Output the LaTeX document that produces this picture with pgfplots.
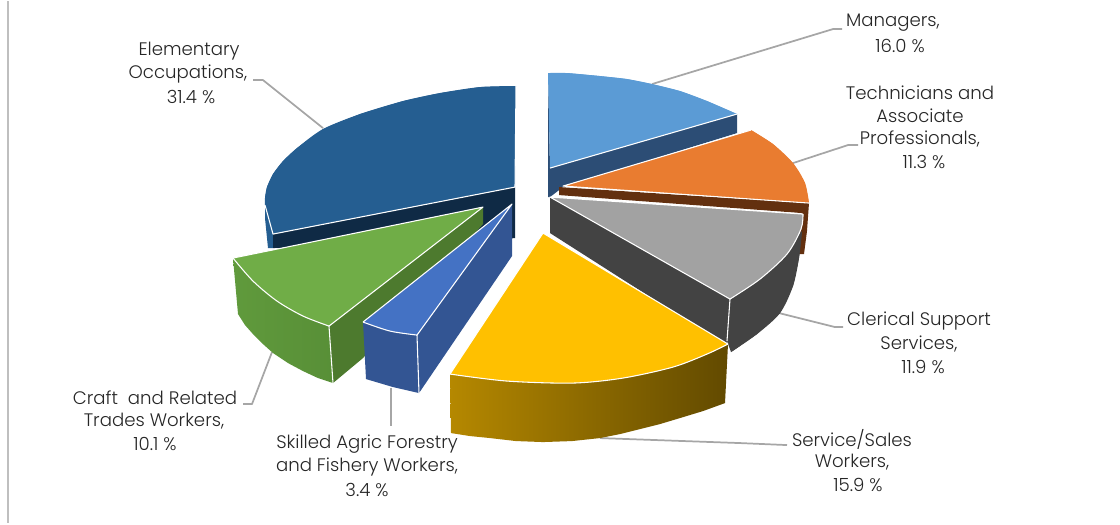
\documentclass[border=0pt]{standalone}
\usepackage{fontspec}
\setmainfont{Poppins Light}
\usepackage{pgfplots}
\pgfplotsset{compat=1.18}
\definecolor{mgrtop}{HTML}{5B9BD5}
\definecolor{mgrside}{HTML}{2C4D75}
\definecolor{techtop}{HTML}{E97C30}
\definecolor{techside}{HTML}{63300F}
\definecolor{clertop}{HTML}{A2A2A2}
\definecolor{clerside}{HTML}{434343}
\definecolor{servtop}{HTML}{FFC000}
\definecolor{servl}{HTML}{B58800}
\definecolor{servm}{HTML}{7D5E00}
\definecolor{servr}{HTML}{624A00}
\definecolor{skiltop}{HTML}{4472C4}
\definecolor{skilside}{HTML}{335593}
\definecolor{crafttop}{HTML}{70AD47}
\definecolor{craftl}{HTML}{609A3C}
\definecolor{craftr}{HTML}{588F37}
\definecolor{craftin}{HTML}{4D7A2E}
\definecolor{elemtop}{HTML}{255E91}
\definecolor{elemside}{HTML}{0F2A45}
\definecolor{leader}{HTML}{A6A6A6}
\tikzset{
  face/.style={draw=none},
  edge/.style={draw=white,line width=0.8pt,fill=none},
  lead/.style={draw=leader,line width=1.3pt,fill=none},
  lab/.style={font=\fontsize{13.6}{15}\selectfont,text=black!85,inner sep=0pt,anchor=center},
}
\begin{document}
\begin{tikzpicture}
\begin{axis}[
  scale only axis,width=840pt,height=391.5pt,
  xmin=0,xmax=1120,ymin=0,ymax=522,y dir=reverse,
  hide axis,clip=false,
  every axis plot/.append style={no markers,line join=round},
]
% keep the whole canvas in the page
\path (axis cs:0,0) rectangle (axis cs:1120,522);

% frame line on the left
\addplot[draw=black!25,line width=1.6pt] coordinates {(8,0) (8,522)};

% leader lines
\addplot[lead] coordinates {(652,83) (833,28) (842,28)};
\addplot[lead] coordinates {(793,162) (848,144) (858,144)};
\addplot[lead] coordinates {(775,311) (835,326) (843,326)};
\addplot[lead] coordinates {(600,437) (740,442) (787,444)};
\addplot[lead] coordinates {(272,351) (252,403) (243,403)};
\addplot[lead] coordinates {(391,387) (391,425)};
\addplot[lead] coordinates {(253,79) (263,79) (323,127)};

% Managers
\addplot[face,fill=mgrside] coordinates {(548,72) (550,167) (737,113) (737,132) (563,186) (550,196) (548,196)};
\addplot[face,fill=mgrtop] coordinates {(548,72) (567,72) (600,75) (627,78) (652,83) (680,90) (707,100) (737,113) (550,167)};
\addplot[face,fill=mgrtop,smooth] coordinates {(548,72) (567,72) (600,75) (627,78) (652,83) (680,90) (707,100) (737,113)};
\addplot[edge] coordinates {(550,167) (737,113)};

% Elementary Occupations
\addplot[face,fill=elemtop] coordinates {(265,203) (265,217) (268,247) (273,247) (273,233)};
\addplot[face,fill=elemside] coordinates {(273,233) (515,186) (515,237) (480,240) (273,247)};
\addplot[face,fill=elemtop] coordinates {(516,85) (480,86) (440,92) (403,100) (360,113) (323,128) (297,147) (283,160) (273,173) (267,186) (265,197) (265,204) (273,233) (515,186)};
\addplot[face,fill=elemtop,smooth] coordinates {(516,85) (480,86) (440,92) (403,100) (360,113) (323,128) (297,147) (283,160) (273,173) (267,186) (265,197) (265,204)};
\addplot[edge] coordinates {(265,204) (273,233) (515,186) (516,85)};

% Technicians and Associate Professionals
\addplot[face,fill=techside] coordinates {(559,186) (809,202) (807,230) (804,253) (798,253) (802,212) (559,194)};
\addplot[face,fill=techtop] coordinates {(563,185) (751,129) (773,143) (793,162) (805,182) (809,202)};
\addplot[face,fill=techtop,smooth] coordinates {(751,129) (773,143) (793,162) (805,182) (809,202)};
\addplot[edge] coordinates {(751,129) (563,185) (809,202)};

% Clerical Support Services
\addplot[face,fill=clerside] coordinates {(550,196) (730,298) (727,345) (550,232)};
\addplot[face,fill=clerside] coordinates {(802,230) (799,257) (793,285) (780,312) (757,333) (731,351) (727,340) (730,298)};
\addplot[face,fill=clerside,smooth] coordinates {(802,230) (799,257) (793,285) (780,312) (757,333) (731,351)};
\addplot[face,fill=clertop] coordinates {(550,196) (803,213) (801,228) (787,253) (760,278) (730,298)};
\addplot[face,fill=clertop,smooth] coordinates {(803,213) (801,228) (787,253) (760,278) (730,298)};
\addplot[edge] coordinates {(803,213) (550,196) (730,298)};
\addplot[edge,smooth] coordinates {(803,213) (801,228) (787,253) (760,278) (730,298)};
\addplot[edge] coordinates {(730,298) (727,340)};

% Craft and Related Trades Workers
\addplot[face,left color=craftl,right color=craftr] coordinates {(233,257) (238,313) (245,324) (253,333) (263,343) (273,352) (288,362) (303,370) (318,377) (333,382) (329,325) (303,315) (277,300) (253,280)};
\addplot[face,fill=craftin] coordinates {(329,325) (483,206) (483,223) (363,357) (333,382)};
\addplot[face,fill=crafttop] coordinates {(233,257) (483,206) (329,325) (303,315) (277,300) (253,280)};
\addplot[face,fill=crafttop,smooth] coordinates {(233,257) (253,280) (277,300) (303,315) (329,325)};
\addplot[edge] coordinates {(233,257) (483,206) (329,325)};
\addplot[edge,smooth] coordinates {(233,257) (253,280) (277,300) (303,315) (329,325)};
\addplot[edge] coordinates {(329,325) (333,382)};

% Skilled Agric Forestry and Fishery Workers
\addplot[face,fill=skilside] coordinates {(417,334) (512,203) (512,255) (419,392)};
\addplot[face,fill=skilside] coordinates {(363,321) (390,330) (417,334) (419,392) (393,386) (366,378)};
\addplot[face,fill=skiltop] coordinates {(512,203) (363,321) (390,330) (417,334)};
\addplot[face,fill=skiltop,smooth] coordinates {(363,321) (390,330) (417,334)};
\addplot[edge] coordinates {(417,334) (512,203) (363,321)};
\addplot[edge,smooth] coordinates {(363,321) (390,330) (417,334)};
\addplot[edge] coordinates {(417,334) (419,392)};

% Service/Sales Workers
\addplot[face,left color=servl,middle color=servm,right color=servr] coordinates {(450,373) (451,432) (470,435) (490,437) (516,440) (543,441) (572,440) (600,437) (620,433) (640,428) (660,423) (680,417) (703,410) (725,402) (728,343) (707,353) (673,366) (623,377) (573,382) (507,380)};
\addplot[face,fill=servtop] coordinates {(543,232) (728,343) (707,353) (673,366) (623,377) (573,382) (507,380) (450,373)};
\addplot[face,fill=servtop,smooth] coordinates {(728,343) (707,353) (673,366) (623,377) (573,382) (507,380) (450,373)};
\addplot[edge] coordinates {(450,373) (543,232) (728,343)};
\addplot[edge,smooth] coordinates {(728,343) (707,353) (673,366) (623,377) (573,382) (507,380) (450,373)};

% labels, one node per line
\node[lab] at (axis cs:893,22) {Managers,};
\node[lab] at (axis cs:900,45) {16.0 \%};
\node[lab] at (axis cs:920,92) {Technicians and};
\node[lab] at (axis cs:920,115) {Associate};
\node[lab] at (axis cs:920,138) {Professionals,};
\node[lab] at (axis cs:924,161) {11.3 \%};
\node[lab] at (axis cs:919,320) {Clerical Support};
\node[lab] at (axis cs:919,343) {Services,};
\node[lab] at (axis cs:923,366) {11.9 \%};
\node[lab] at (axis cs:852,438) {Service/Sales};
\node[lab] at (axis cs:852,461) {Workers,};
\node[lab] at (axis cs:858,484) {15.9 \%};
\node[lab] at (axis cs:155,397) {Craft\ \ and Related};
\node[lab] at (axis cs:154,420) {Trades Workers,};
\node[lab] at (axis cs:155,443) {10.1 \%};
\node[lab] at (axis cs:367,443) {Skilled Agric Forestry};
\node[lab] at (axis cs:367,466) {and Fishery Workers,};
\node[lab] at (axis cs:367,489) {3.4 \%};
\node[lab] at (axis cs:189,50) {Elementary};
\node[lab] at (axis cs:188,73) {Occupations,};
\node[lab] at (axis cs:191,96) {31.4 \%};
\end{axis}
\end{tikzpicture}
\end{document}
